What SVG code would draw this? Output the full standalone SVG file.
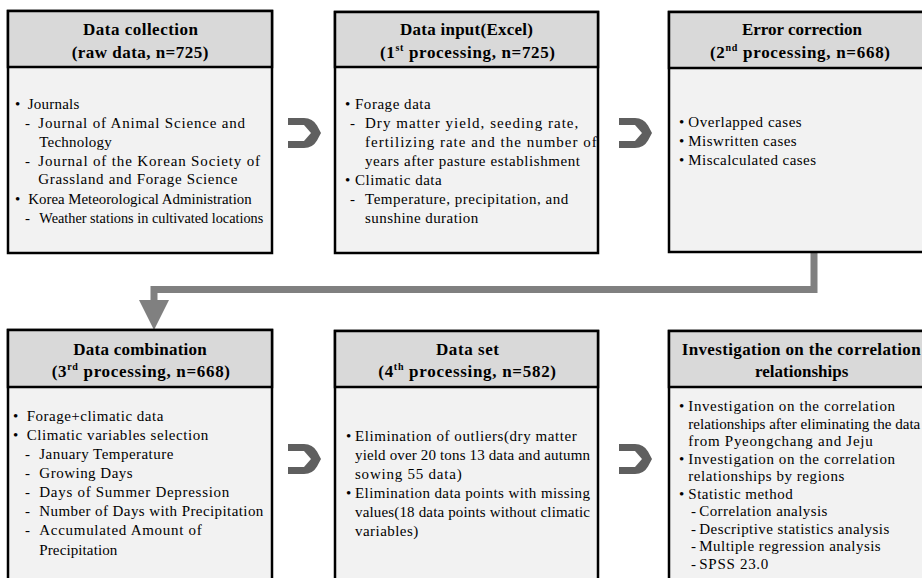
<svg xmlns="http://www.w3.org/2000/svg" xmlns:xlink="http://www.w3.org/1999/xlink" width="922" height="578" viewBox="0 0 922 578">
<style>
.hdr{fill:#d9d9d9;stroke:#000;stroke-width:2.5}
.bdy{fill:#f2f2f2;stroke:#000;stroke-width:2.5}
.t{font-family:"Liberation Serif","Times New Roman",serif;font-weight:bold;font-size:17px;fill:#000}
.b{font-family:"Liberation Serif","Times New Roman",serif;font-size:15px;fill:#000}
.m{font-family:"Liberation Serif","Times New Roman",serif;font-size:15px;fill:#000}
.sup{font-size:10px}
.arr{fill:#5f5f5f}
.conn{fill:none;stroke:#808080;stroke-width:7}
</style>
<defs>
<path id="ca" d="M0,0 H16 A15,15 0 0 1 29,7.5 L33,15 L29,22.5 A15,15 0 0 1 16,30 H0 V23 H16 L23,15 L16,7 H0 Z"/>
</defs>

<g id="connectors">
<polyline class="conn" points="814,253 814,289.5 154,289.5 154,303"/>
<polygon fill="#808080" points="139,300 169,300 154,330"/>
<use xlink:href="#ca" class="arr" x="288" y="118"/>
<use xlink:href="#ca" class="arr" x="619" y="118"/>
<use xlink:href="#ca" class="arr" x="288" y="444"/>
<use xlink:href="#ca" class="arr" x="619" y="444"/>
</g>

<g id="n1">
<rect class="bdy" x="8" y="11" width="264" height="242"/>
<rect class="hdr" x="8" y="11" width="264" height="56"/>
<text class="t" x="83" y="35" textLength="115" lengthAdjust="spacing">Data collection</text>
<text class="t" x="71.7" y="58" textLength="136.6" lengthAdjust="spacing">(raw data, n=725)</text>
<text class="m" x="15" y="109">•</text>
<text class="b" x="27.7" y="109" textLength="51.6" lengthAdjust="spacing">Journals</text>
<text class="m" x="25" y="128">-</text>
<text class="b" x="38.3" y="128" textLength="206.7" lengthAdjust="spacing">Journal of Animal Science and</text>
<text class="b" x="39.3" y="147" textLength="72.4" lengthAdjust="spacing">Technology</text>
<text class="m" x="25" y="166">-</text>
<text class="b" x="38.3" y="166" textLength="221.7" lengthAdjust="spacing">Journal of the Korean Society of</text>
<text class="b" x="38.3" y="184" textLength="199" lengthAdjust="spacing">Grassland and Forage Science</text>
<text class="m" x="15" y="204">•</text>
<text class="b" x="28.3" y="204" textLength="223.4" lengthAdjust="spacingAndGlyphs">Korea Meteorological Administration</text>
<text class="m" x="25" y="223">-</text>
<text class="b" x="39.3" y="223" textLength="224" lengthAdjust="spacingAndGlyphs">Weather stations in cultivated locations</text>
</g>

<g id="n2">
<rect class="bdy" x="335" y="12" width="263" height="241"/>
<rect class="hdr" x="335" y="12" width="263" height="55"/>
<text class="t" x="400" y="35" textLength="133" lengthAdjust="spacing">Data input(Excel)</text>
<text class="t" x="380" y="58" textLength="175" lengthAdjust="spacing">(1<tspan class="sup" dy="-7">st</tspan><tspan dy="7"> processing, n=725)</tspan></text>
<text class="m" x="345" y="109">•</text>
<text class="b" x="355" y="109" textLength="75.7" lengthAdjust="spacing">Forage data</text>
<text class="m" x="350" y="128">-</text>
<text class="b" x="365" y="128" textLength="213.3" lengthAdjust="spacing">Dry matter yield, seeding rate,</text>
<text class="b" x="365" y="147" textLength="231.7" lengthAdjust="spacing">fertilizing rate and the number of</text>
<text class="b" x="365" y="166" textLength="215" lengthAdjust="spacing">years after pasture establishment</text>
<text class="m" x="345" y="185">•</text>
<text class="b" x="355" y="185" textLength="86.7" lengthAdjust="spacing">Climatic data</text>
<text class="m" x="350" y="204">-</text>
<text class="b" x="365" y="204" textLength="203.3" lengthAdjust="spacing">Temperature, precipitation, and</text>
<text class="b" x="365" y="223" textLength="113.3" lengthAdjust="spacing">sunshine duration</text>
</g>

<g id="n3">
<rect class="bdy" x="669" y="12" width="263" height="240"/>
<rect class="hdr" x="669" y="12" width="263" height="56"/>
<text class="t" x="742" y="35" textLength="120" lengthAdjust="spacing">Error correction</text>
<text class="t" x="710" y="58" textLength="180" lengthAdjust="spacing">(2<tspan class="sup" dy="-7">nd</tspan><tspan dy="7"> processing, n=668)</tspan></text>
<text class="m" x="679" y="127">•</text>
<text class="b" x="688.3" y="127" textLength="113.4" lengthAdjust="spacing">Overlapped cases</text>
<text class="m" x="679" y="146">•</text>
<text class="b" x="688.3" y="146" textLength="108.4" lengthAdjust="spacing">Miswritten cases</text>
<text class="m" x="679" y="165">•</text>
<text class="b" x="688.3" y="165" textLength="127.7" lengthAdjust="spacing">Miscalculated cases</text>
</g>

<g id="n4">
<rect class="bdy" x="8" y="330" width="264" height="270"/>
<rect class="hdr" x="8" y="330" width="264" height="57"/>
<text class="t" x="73.3" y="355" textLength="133.4" lengthAdjust="spacing">Data combination</text>
<text class="t" x="51.7" y="377" textLength="178.3" lengthAdjust="spacing">(3<tspan class="sup" dy="-7">rd</tspan><tspan dy="7"> processing, n=668)</tspan></text>
<text class="m" x="13" y="421">•</text>
<text class="b" x="26.7" y="421" textLength="136.6" lengthAdjust="spacing">Forage+climatic data</text>
<text class="m" x="13" y="440">•</text>
<text class="b" x="26.7" y="440" textLength="181.6" lengthAdjust="spacing">Climatic variables selection</text>
<text class="m" x="25" y="459">-</text>
<text class="b" x="39.3" y="459" textLength="134" lengthAdjust="spacing">January Temperature</text>
<text class="m" x="25" y="478">-</text>
<text class="b" x="39.3" y="478" textLength="93.4" lengthAdjust="spacing">Growing Days</text>
<text class="m" x="25" y="497">-</text>
<text class="b" x="39.3" y="497" textLength="190" lengthAdjust="spacing">Days of Summer Depression</text>
<text class="m" x="25" y="516">-</text>
<text class="b" x="39.3" y="516" textLength="224" lengthAdjust="spacing">Number of Days with Precipitation</text>
<text class="m" x="25" y="535">-</text>
<text class="b" x="39.3" y="535" textLength="162.4" lengthAdjust="spacing">Accumulated Amount of</text>
<text class="b" x="39.3" y="555" textLength="78" lengthAdjust="spacing">Precipitation</text>
</g>

<g id="n5">
<rect class="bdy" x="335" y="331" width="263" height="270"/>
<rect class="hdr" x="335" y="331" width="263" height="56"/>
<text class="t" x="436" y="355" textLength="63" lengthAdjust="spacing">Data set</text>
<text class="t" x="378.3" y="377" textLength="177.7" lengthAdjust="spacing">(4<tspan class="sup" dy="-7">th</tspan><tspan dy="7"> processing, n=582)</tspan></text>
<text class="m" x="346" y="441">•</text>
<text class="b" x="355" y="441" textLength="221.7" lengthAdjust="spacing">Elimination of outliers(dry matter</text>
<text class="b" x="355" y="460" textLength="235" lengthAdjust="spacing">yield over 20 tons 13 data and autumn</text>
<text class="b" x="355" y="479" textLength="106.7" lengthAdjust="spacing">sowing 55 data)</text>
<text class="m" x="346" y="498">•</text>
<text class="b" x="355" y="498" textLength="235" lengthAdjust="spacing">Elimination data points with missing</text>
<text class="b" x="355" y="517" textLength="235" lengthAdjust="spacing">values(18 data points without climatic</text>
<text class="b" x="355" y="536" textLength="63.3" lengthAdjust="spacing">variables)</text>
</g>

<g id="n6">
<rect class="bdy" x="669" y="331" width="263" height="270"/>
<rect class="hdr" x="669" y="331" width="263" height="56"/>
<text class="t" x="681.7" y="355" textLength="239" lengthAdjust="spacing">Investigation on the correlation</text>
<text class="t" x="755" y="377" textLength="93.3" lengthAdjust="spacing">relationships</text>
<text class="m" x="679" y="411">•</text>
<text class="b" x="688.3" y="411" textLength="206.7" lengthAdjust="spacing">Investigation on the correlation</text>
<text class="b" x="688.3" y="428.5" textLength="232" lengthAdjust="spacingAndGlyphs">relationships  after eliminating the data</text>
<text class="b" x="688.3" y="446" textLength="184.4" lengthAdjust="spacing">from Pyeongchang and Jeju</text>
<text class="m" x="679" y="463.5">•</text>
<text class="b" x="688.3" y="463.5" textLength="206.7" lengthAdjust="spacing">Investigation on the correlation</text>
<text class="b" x="688.3" y="481" textLength="156" lengthAdjust="spacing">relationships by regions</text>
<text class="m" x="679" y="498.5">•</text>
<text class="b" x="688.3" y="498.5" textLength="104.4" lengthAdjust="spacing">Statistic method</text>
<text class="m" x="691" y="516">-</text>
<text class="b" x="699.3" y="516" textLength="128" lengthAdjust="spacing">Correlation analysis</text>
<text class="m" x="691" y="533.5">-</text>
<text class="b" x="699.3" y="533.5" textLength="190" lengthAdjust="spacing">Descriptive statistics analysis</text>
<text class="m" x="691" y="551">-</text>
<text class="b" x="699.3" y="551" textLength="181.4" lengthAdjust="spacing">Multiple regression analysis</text>
<text class="m" x="691" y="569">-</text>
<text class="b" x="699.3" y="569" textLength="69" lengthAdjust="spacing">SPSS 23.0</text>
</g>
</svg>
